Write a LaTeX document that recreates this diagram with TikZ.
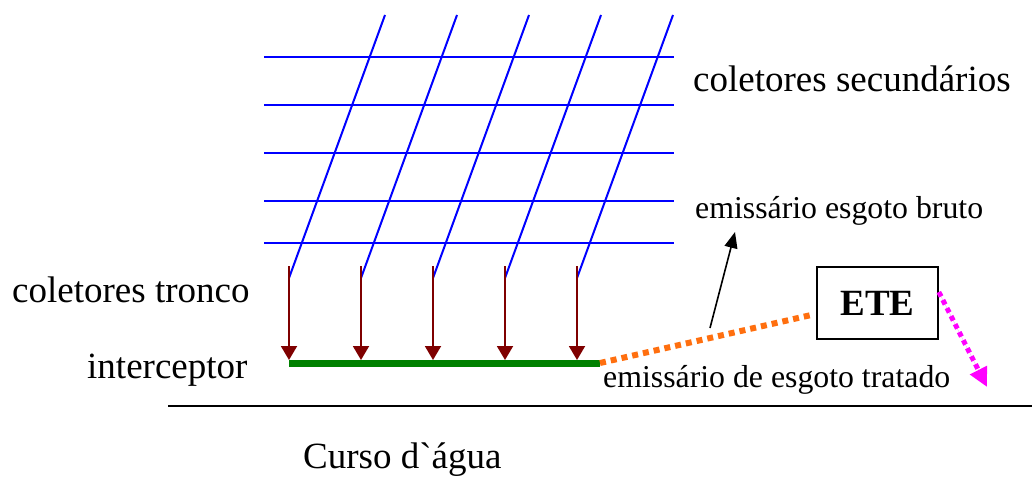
\documentclass[tikz,border=0pt]{standalone}
\usepackage{fontspec}
\setmainfont{Liberation Serif}[Ligatures=TeXOff]
\usepackage{tikz}
\usetikzlibrary{arrows.meta, positioning, calc}
\definecolor{pipeblue}{HTML}{0000FF}
\definecolor{trunkred}{HTML}{7F0000}
\definecolor{intgreen}{HTML}{008000}
\definecolor{rawor}{HTML}{FF6F0F}
\definecolor{outmag}{HTML}{FF00FF}

\begin{document}
\begin{tikzpicture}[x=1pt, y=-1pt,
        pipe/.style={draw=pipeblue, line width=2pt},
        trunk/.style={-{Triangle[width=16pt, length=14pt]}, draw=trunkred, fill=trunkred, line width=1.9pt},
        biglabel/.style={anchor=base west, inner sep=0pt, font=\fontsize{37}{42}\selectfont},
        smalllabel/.style={anchor=base west, inner sep=0pt, font=\fontsize{31.8}{36}\selectfont},
        plant/.style={rectangle, draw, line width=1.6pt, minimum width=121pt, minimum height=72pt, inner sep=0pt, font=\fontsize{37}{42}\selectfont\bfseries}
    ]
        \useasboundingbox (0,0) rectangle (1032,495);

        % secondary collectors
        \draw[pipe] (264,57) -- (674,57);
        \draw[pipe] (264,105) -- (674,105);
        \draw[pipe] (264,153) -- (674,153);
        \draw[pipe] (264,201) -- (674,201);
        \draw[pipe] (264,243) -- (674,243);
        \draw[pipe] (385,15) -- (289,278);
        \draw[pipe] (457,15) -- (361,278);
        \draw[pipe] (529,15) -- (433,278);
        \draw[pipe] (601,15) -- (505,278);
        \draw[pipe] (673,15) -- (577,278);

        % interceptor
        \coordinate (intA) at (289,363);
        \coordinate (intB) at (600,363);
        \draw[draw=intgreen, line width=7pt] (intA) -- (intB);

        % trunk collectors
        \coordinate (t1) at (289,266);
        \coordinate (t2) at (361,266);
        \coordinate (t3) at (433,266);
        \coordinate (t4) at (505,266);
        \coordinate (t5) at (577,266);
        \draw[trunk] (t1) -- (289,360);
        \draw[trunk] (t2) -- (361,360);
        \draw[trunk] (t3) -- (433,360);
        \draw[trunk] (t4) -- (505,360);
        \draw[trunk] (t5) -- (577,360);

        % river
        \coordinate (rivA) at (168,406);
        \coordinate (rivB) at (1032,406);
        \draw[line width=1.6pt] (rivA) -- (rivB);

        \node[plant] (ete) at (877.5,303) {ETE};

        \node[biglabel] (sec) at (693,91) {coletores secundários};
        \node[biglabel] (tronco) at (12,302) {coletores tronco};
        \node[biglabel] (interc) at (87,378) {interceptor};
        \node[biglabel] (curso) at (303,468) {Curso d`água};
        \node[smalllabel] (bruto) at (695,218) {emissário esgoto bruto};
        \node[smalllabel] (tratado) at (603,387) {emissário de esgoto tratado};

        \coordinate (rawIn) at ($(ete.west)+(-5,12)$);
        \coordinate (rawTail) at (710,328);
        \coordinate (rawTip) at (735,232);
        \coordinate (outEnd) at (987,387);

        \draw[draw=rawor, line width=6pt, dash pattern=on 6pt off 5pt] (intB) -- (rawIn);
        \draw[-{Triangle[width=13pt, length=16pt]}, line width=1.6pt] (rawTail) -- (rawTip);
        \draw[draw=outmag, fill=outmag, line width=5pt, dash pattern=on 5pt off 4pt, -{Triangle[width=18pt, length=19pt]}] ($(ete.east)+(0,-11)$) -- (outEnd);
    \end{tikzpicture}
\end{document}
